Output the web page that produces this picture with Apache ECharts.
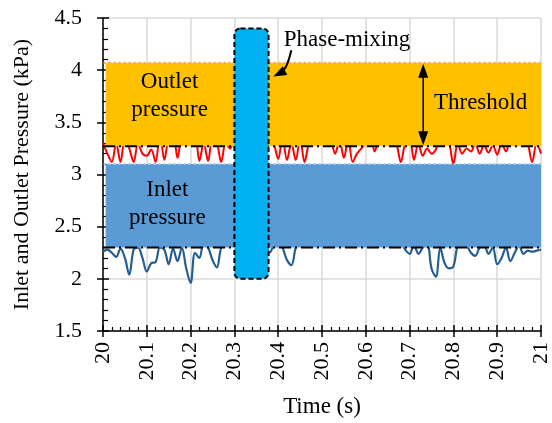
<!DOCTYPE html>
<html><head><meta charset="utf-8">
<script src="https://cdn.jsdelivr.net/npm/echarts@6/dist/echarts.min.js"></script>
<style>html,body{margin:0;padding:0;background:#fff}#c{width:552px;height:423px}</style>
</head><body><div id="c"></div>
<script>
// ---- data ----
const timeStart = 20, timeStep = 0.01;
const outletPressure = [
  3.30,3.20,3.12,3.30,3.12,3.35,3.25,3.12,3.30,3.20,
  3.18,3.24,3.12,3.40,3.14,3.35,3.38,3.16,3.40,3.45,
  3.32,3.40,3.13,3.30,3.13,3.35,3.30,3.12,3.30,3.25,
  3.35,3.40,3.45,3.40,3.50,3.45,3.40,3.45,3.40,3.30,
  3.15,3.35,3.14,3.30,3.14,3.35,3.12,3.30,3.40,3.45,
  3.38,3.42,3.35,3.20,3.32,3.16,3.35,3.12,3.20,3.25,
  3.30,3.40,3.22,3.35,3.40,3.45,3.38,3.30,3.12,3.30,
  3.35,3.14,3.30,3.18,3.25,3.20,3.24,3.35,3.32,3.30,
  3.10,3.30,3.20,3.25,3.22,3.30,3.20,3.28,3.21,3.28,
  3.19,3.30,3.22,3.35,3.40,3.38,3.42,3.30,3.12,3.30,3.20
];
const inletPressure = [
  2.26,2.28,2.25,2.21,2.29,2.20,2.04,2.28,2.30,2.20,
  2.07,2.15,2.16,2.30,2.28,2.14,2.29,2.17,2.30,2.10,
  1.96,2.25,2.20,2.35,2.30,2.18,2.11,2.30,2.32,2.40,
  2.35,2.45,2.50,2.40,2.45,2.50,2.40,2.35,2.25,2.32,
  2.38,2.30,2.18,2.13,2.30,2.40,2.45,2.50,2.42,2.38,
  2.45,2.50,2.40,2.42,2.48,2.40,2.45,2.50,2.42,2.40,
  2.46,2.50,2.42,2.40,2.45,2.48,2.40,2.38,2.35,2.28,
  2.24,2.32,2.24,2.30,2.35,2.10,2.02,2.30,2.15,2.10,
  2.12,2.32,2.35,2.32,2.25,2.22,2.30,2.32,2.24,2.30,
  2.14,2.20,2.30,2.17,2.25,2.32,2.24,2.27,2.26,2.27,2.28
];
const xRange = [20, 21], xInterval = 0.1;
const yRange = [1.5, 4.5], yInterval = 0.5;
// bands: [xStart, xEnd, yLow, yHigh]
const outletBand = [20.006, 21, 3.27, 4.07];
const inletBand = [20.006, 21, 2.30, 3.10];
const thresholdLevels = [3.27, 2.30];
const phaseMixingBox = [20.30, 20.378, 2.0, 4.4];
const thresholdArrow = [20.731, 3.27, 4.07];
const outletLabel = ['Outlet', 'pressure'], outletLabelPos = [20.152, 3.755];
const inletLabel = ['Inlet', 'pressure'], inletLabelPos = [20.147, 2.72];
const thresholdLabel = 'Threshold', thresholdLabelPos = [20.862, 3.69];
const phaseLabel = 'Phase-mixing', phaseLabelPos = [20.557, 4.29];
const phaseArrowPts = [[20.43, 4.19], [20.42, 4.01], [20.389, 3.94]]; // start, control, end

const FONT = '"Liberation Serif","Times New Roman",serif';
const times = outletPressure.map((_, i) => +(timeStart + i * timeStep).toFixed(2));
const outletData = times.map((t, i) => [t, outletPressure[i]]);
const inletData = times.map((t, i) => [t, inletPressure[i]]);

function arrowHead(tip, from, len, half, color) {
  const dx = tip[0] - from[0], dy = tip[1] - from[1];
  const d = Math.hypot(dx, dy) || 1;
  const ux = dx / d, uy = dy / d;
  const bx = tip[0] - ux * len, by = tip[1] - uy * len;
  return { type: 'polygon', shape: { points: [tip, [bx - uy * half, by + ux * half], [bx + uy * half, by - ux * half]] },
    style: { fill: color } };
}

const chart = echarts.init(document.getElementById('c'), null, { renderer: 'canvas' });
const labelFmt = v => String(Math.round(v * 10) / 10);
chart.setOption({
  animation: false,
  backgroundColor: '#fff',
  grid: { left: 103, right: 7, top: 18, bottom: 91, containLabel: false },
  xAxis: [{
    type: 'value', min: xRange[0], max: xRange[1], interval: xInterval,
    axisLine: { onZero: false, lineStyle: { color: '#000', width: 1.5 } },
    axisTick: { show: true, length: 6, lineStyle: { color: '#000', width: 1.5 } },
    splitLine: { show: true, lineStyle: { color: '#d9d9d9', width: 1.5 } },
    axisLabel: { rotate: 90, margin: 11, color: '#000', fontSize: 22, fontFamily: FONT, formatter: labelFmt, showMinLabel: true, showMaxLabel: true },
    name: 'Time (s)', nameLocation: 'middle', nameGap: 64,
    nameTextStyle: { color: '#000', fontSize: 23, fontFamily: FONT }
  }, {
    type: 'value', min: xRange[0], max: xRange[1], interval: xInterval, position: 'bottom', offset: 0,
    axisLine: { show: false },
    axisTick: { show: true, inside: true, length: 6, lineStyle: { color: '#000', width: 1.5 } },
    minorTick: { show: true, splitNumber: 5, length: 4, lineStyle: { color: '#000', width: 1.2 } },
    splitLine: { show: false }, axisLabel: { show: false }
  }],
  yAxis: [{
    type: 'value', min: yRange[0], max: yRange[1], interval: yInterval,
    axisLine: { onZero: false, lineStyle: { color: '#000', width: 1.5 } },
    axisTick: { show: true, length: 6, lineStyle: { color: '#000', width: 1.5 } },
    splitLine: { show: true, lineStyle: { color: '#d9d9d9', width: 1.5 } },
    axisLabel: { margin: 21, color: '#000', fontSize: 22, fontFamily: FONT, formatter: labelFmt },
    name: 'Inlet and Outlet Pressure (kPa)', nameLocation: 'middle', nameGap: 70, nameRotate: 90,
    nameTextStyle: { color: '#000', fontSize: 22, fontFamily: FONT }
  }, {
    type: 'value', min: yRange[0], max: yRange[1], interval: yInterval, position: 'left', offset: 0,
    axisLine: { show: false },
    axisTick: { show: true, inside: true, length: 6, lineStyle: { color: '#000', width: 1.5 } },
    minorTick: { show: true, splitNumber: 5, length: 5, lineStyle: { color: '#000', width: 1.2 } },
    splitLine: { show: false }, axisLabel: { show: false }
  }],
  series: [
    { type: 'line', name: 'Outlet', data: outletData, showSymbol: false, smooth: 0.35, z: 2,
      lineStyle: { color: '#FF0000', width: 2 } },
    { type: 'line', name: 'Inlet', data: inletData, showSymbol: false, smooth: 0.35, z: 2,
      lineStyle: { color: '#255E91', width: 2.2 } },
    { type: 'custom', name: 'bands', z: 3, clip: false,
      data: [outletBand, inletBand],
      encode: { x: [0, 1], y: [2, 3] },
      renderItem: (params, api) => {
        const p0 = api.coord([api.value(0), api.value(3)]);
        const p1 = api.coord([api.value(1), api.value(2)]);
        const isOut = params.dataIndex === 0;
        return { type: 'group', children: [
          { type: 'rect', shape: { x: p0[0], y: p0[1], width: p1[0] - p0[0], height: p1[1] - p0[1] },
            style: { fill: isOut ? '#FFC000' : '#5B9BD5' } },
          { type: 'line', shape: { x1: p0[0] - 2, y1: p0[1], x2: p1[0], y2: p0[1] },
            style: { stroke: isOut ? '#F4A266' : '#A9CBEA', lineWidth: 2, lineDash: [2, 3] } }
        ] };
      } },
    { type: 'custom', name: 'thresholds', z: 4, clip: false,
      data: thresholdLevels.map(v => [xRange[0], xRange[1], v]),
      encode: { x: [0, 1], y: 2 },
      renderItem: (params, api) => {
        const a = api.coord([api.value(0), api.value(2)]);
        const b = api.coord([api.value(1), api.value(2)]);
        return { type: 'line', shape: { x1: a[0], y1: a[1], x2: b[0], y2: b[1] },
          style: { stroke: '#000', lineWidth: 2, lineDash: [12, 4, 2, 4] } };
      } },
    { type: 'custom', name: 'phase', z: 5, clip: false,
      data: [phaseMixingBox],
      encode: { x: [0, 1], y: [2, 3] },
      renderItem: (params, api) => {
        const p0 = api.coord([api.value(0), api.value(3)]);
        const p1 = api.coord([api.value(1), api.value(2)]);
        return { type: 'rect', shape: { x: p0[0], y: p0[1], width: p1[0] - p0[0], height: p1[1] - p0[1], r: 6 },
          style: { fill: '#00B0F0', stroke: '#000', lineWidth: 2, lineDash: [5, 3] } };
      } },
    { type: 'custom', name: 'annotations', z: 6, clip: false,
      data: [[20.5, 3]],
      renderItem: (params, api) => {
        const txt = (str, pos) => {
          const c = api.coord(pos);
          return { type: 'text', style: { text: str, x: c[0], y: c[1], fill: '#000',
            font: '23px ' + FONT, align: 'center', verticalAlign: 'middle', lineHeight: 28 } };
        };
        const top = api.coord([thresholdArrow[0], thresholdArrow[2]]);
        const bot = api.coord([thresholdArrow[0], thresholdArrow[1]]);
        const s = api.coord(phaseArrowPts[0]), cp = api.coord(phaseArrowPts[1]), e = api.coord(phaseArrowPts[2]);
        return { type: 'group', children: [
          txt(outletLabel.join('\n'), outletLabelPos),
          txt(inletLabel.join('\n'), inletLabelPos),
          txt(thresholdLabel, thresholdLabelPos),
          txt(phaseLabel, phaseLabelPos),
          { type: 'line', shape: { x1: top[0], y1: top[1] + 10, x2: bot[0], y2: bot[1] - 10 },
            style: { stroke: '#000', lineWidth: 1.5 } },
          arrowHead([top[0], top[1] + 1], [top[0], top[1] + 20], 14, 5, '#000'),
          arrowHead([bot[0], bot[1] - 1], [bot[0], bot[1] - 20], 14, 5, '#000'),
          { type: 'bezierCurve', shape: { x1: s[0], y1: s[1], x2: e[0] + 8, y2: e[1] - 4, cpx1: cp[0], cpy1: cp[1] },
            style: { stroke: '#000', lineWidth: 2, fill: null } },
          arrowHead(e, [e[0] + 14, e[1] - 7], 13, 5, '#000')
        ] };
      } }
  ]
});
</script></body></html>
